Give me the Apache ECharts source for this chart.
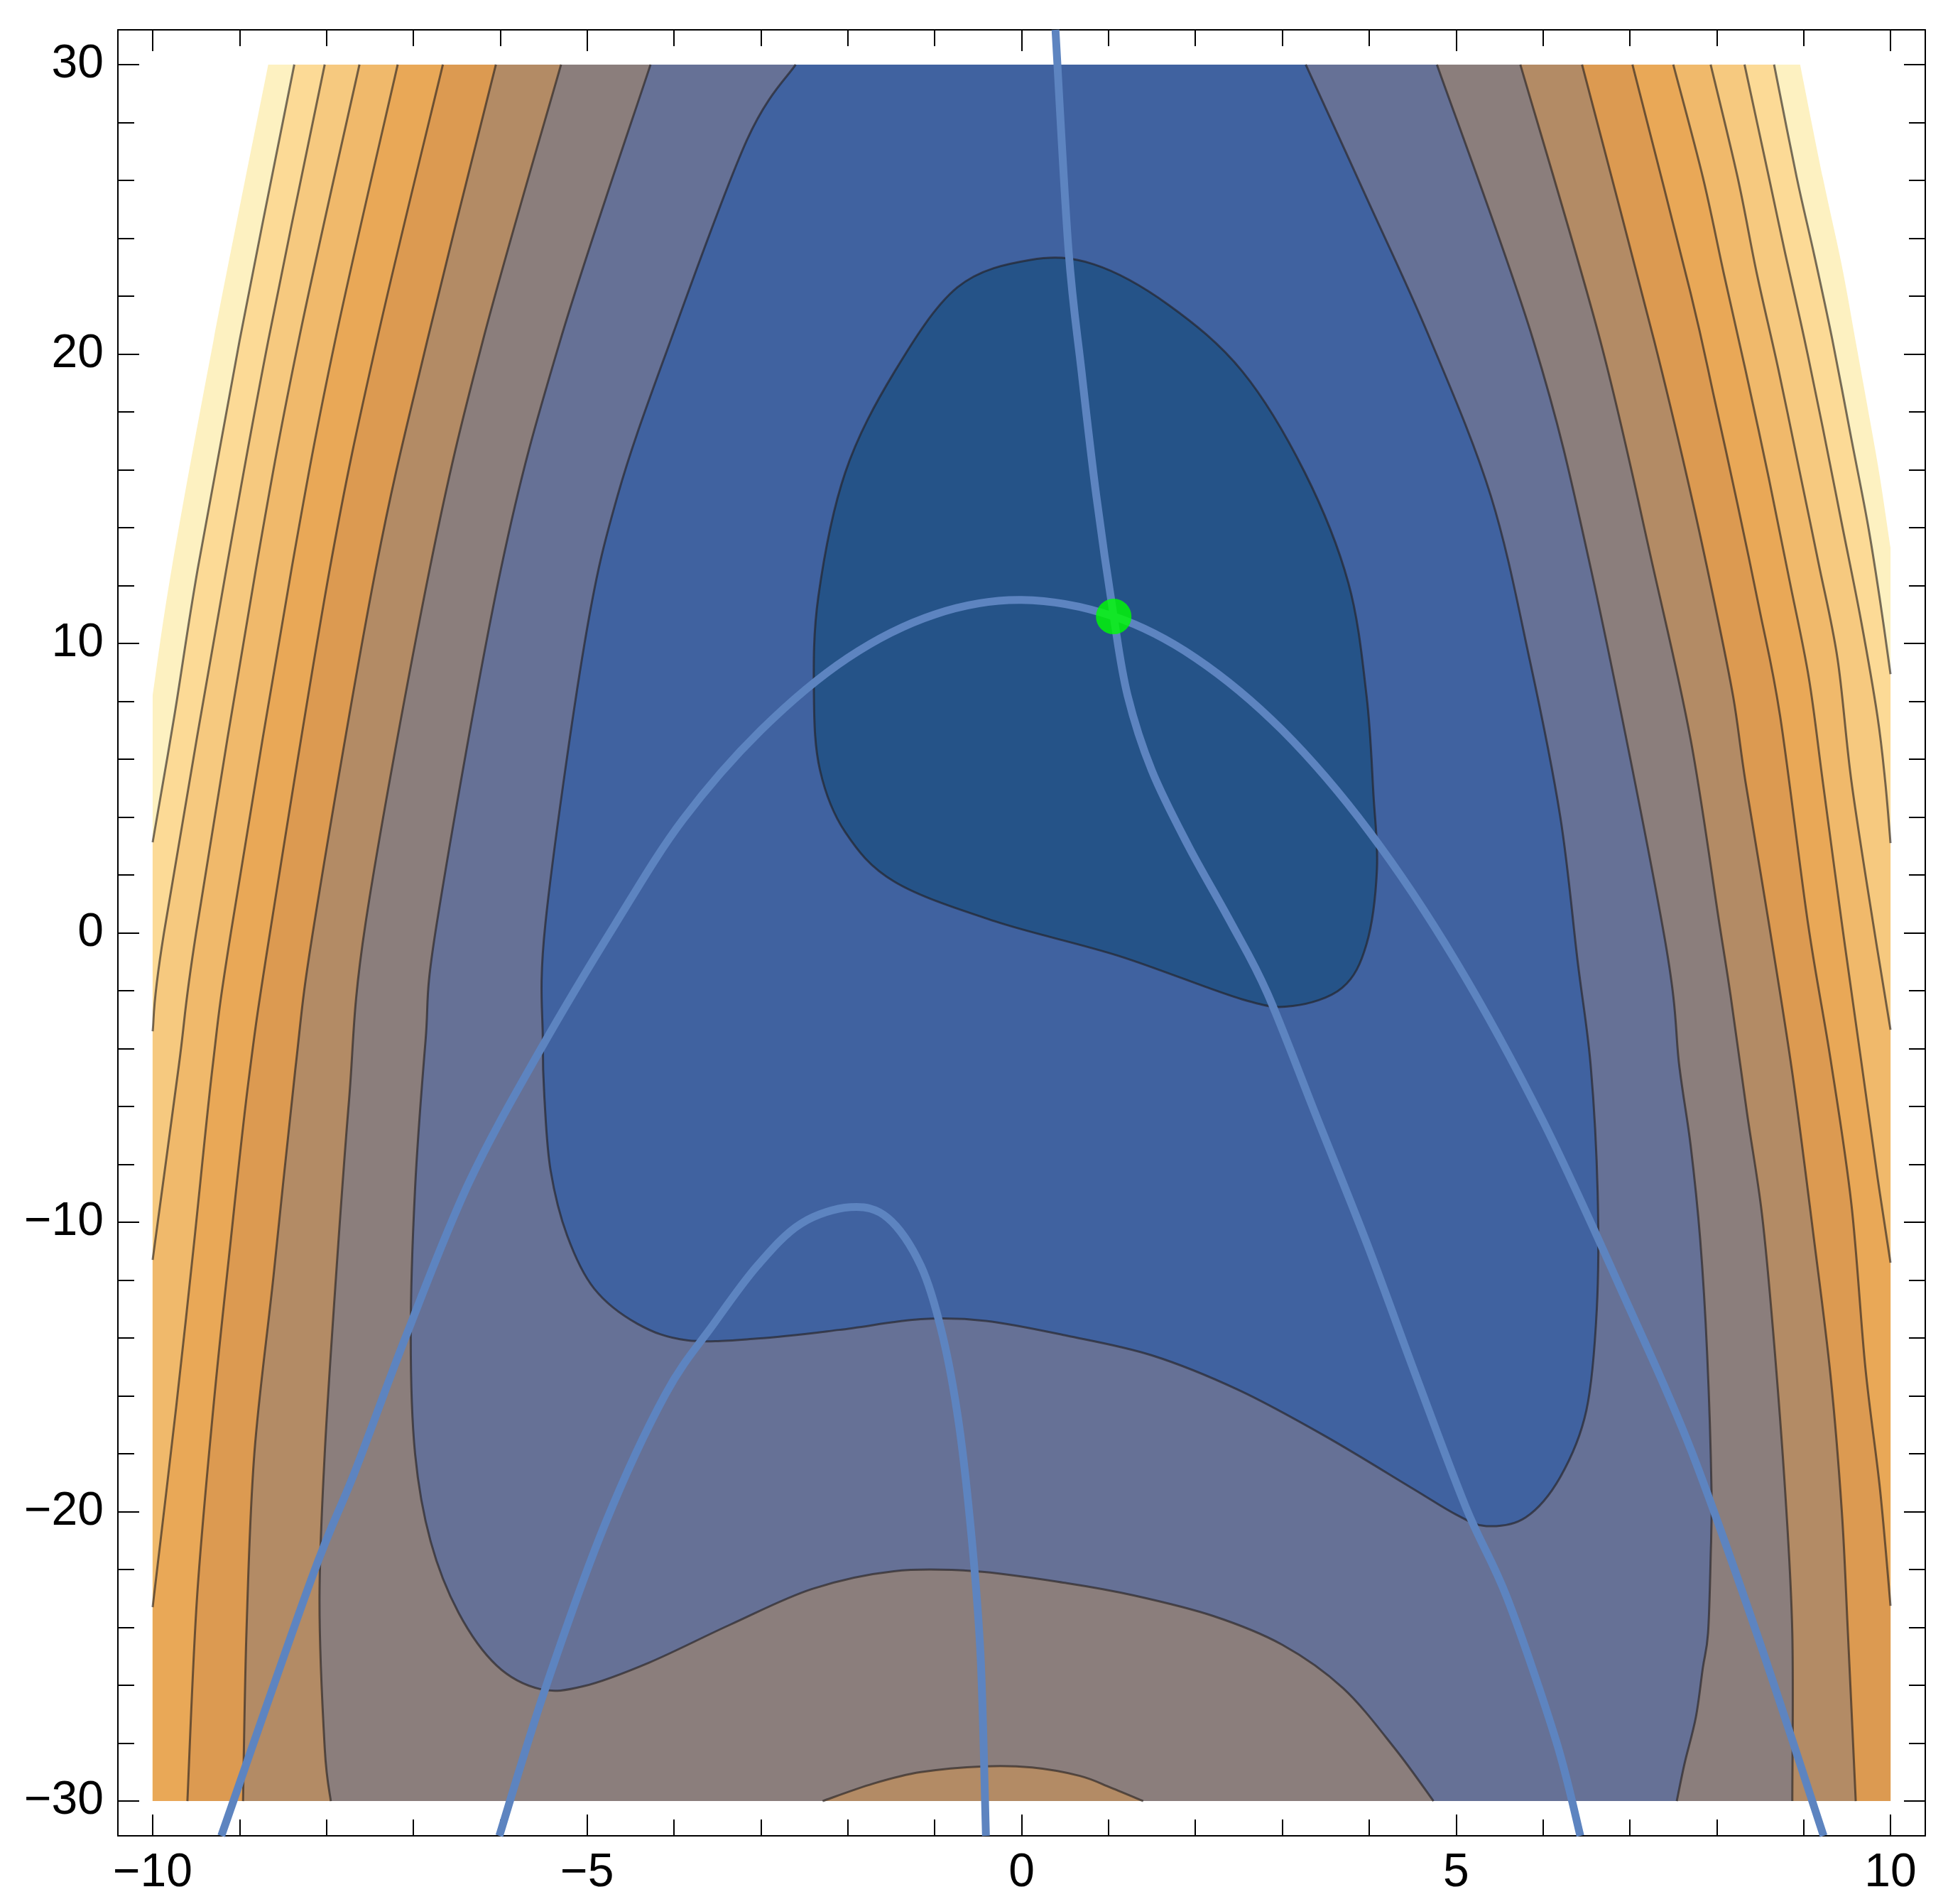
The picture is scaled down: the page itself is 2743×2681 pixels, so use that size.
<!DOCTYPE html>
<html>
<head>
<meta charset="utf-8">
<script src="https://cdn.jsdelivr.net/npm/echarts@6/dist/echarts.min.js"></script>
<style>
  html, body { margin: 0; padding: 0; background: #fff; }
  #chart { width: 2743px; height: 2681px; }
</style>
</head>
<body>
<div id="chart"></div>
<script>
// axis ranges and ticks
const xMin = -10.4, xMax = 10.4, yMin = -31.2, yMax = 31.2;
const xMajor = [-10, -5, 0, 5, 10];
const xMinor = [-9, -8, -7, -6, -4, -3, -2, -1, 1, 2, 3, 4, 6, 7, 8, 9];
const yMajor = [-30, -20, -10, 0, 10, 20, 30];
const yMinor = [-28, -26, -24, -22, -18, -16, -14, -12, -8, -6, -4, -2,
  2, 4, 6, 8, 12, 14, 16, 18, 22, 24, 26, 28];

// band colours, outermost (highest) to innermost (lowest)
const bandColors = ["#fdf1c1", "#fcda96", "#f6c97f", "#f0b96b", "#e9a857",
  "#dc9a51", "#b38b65", "#8b7e7c", "#667196", "#4062a0", "#255388"];

// edge of the plotted area (top corners are clipped white)
const edgeLeft = [[-8.67, 30], [-9.30, 20.46], [-9.78, 12.6], [-10, 8.2]];
const edgeRight = [[8.96, 30], [9.22, 26.11], [9.44, 23.05], [9.61, 20.25], [9.77, 17.6], [9.88, 15.7], [10, 13.3]];

// contour lines, left side (top -> bottom)
const L1 = [[-8.37, 30], [-9.0, 20.46], [-9.48, 12.6], [-9.75, 7.5], [-10, 3.13]];
const L2 = [[-8.02, 30], [-8.67, 20.46], [-9.15, 12.6], [-9.87, 0], [-10, -3.4]];
const L3 = [[-7.62, 30], [-8.32, 20.46], [-8.81, 12.6], [-9.50, 0], [-9.70, -4.62], [-10, -11.3]];
const L4 = [[-7.18, 30], [-7.9, 20.46], [-8.40, 12.6], [-9.10, 0], [-9.31, -4.62], [-9.53, -10.9], [-9.73, -16.4], [-10, -23.3]];
const L5 = [[-6.66, 30], [-7.42, 20.46], [-7.96, 12.6], [-8.65, 0], [-8.90, -5.2], [-9.11, -10.87], [-9.30, -16.36], [-9.49, -23], [-9.6, -30]];
const L6 = [[-6.05, 30], [-6.84, 20.46], [-7.43, 12.6], [-8.14, 0.33], [-8.36, -4.76], [-8.61, -11.88], [-8.83, -18], [-8.92, -24.1], [-8.96, -30]];
const L7 = [[-5.30, 30], [-6.20, 20.46], [-6.81, 12.6], [-7.55, 0.33], [-7.74, -5.78], [-7.89, -11.88], [-8.02, -18], [-8.08, -23.08], [-8.02, -28.17], [-7.95, -30]];
const L8 = [[-4.27, 30], [-5.31, 20.46], [-5.99, 12.6], [-6.73, 0.33], [-6.86, -3.74], [-6.98, -8.83], [-7.03, -13.92],
  [-6.98, -18], [-6.8, -21.04], [-6.48, -23.49], [-6.04, -25.32], [-5.54, -26.13], [-5.04, -26.03], [-4.29, -25.22],
  [-3.35, -23.9], [-2.41, -22.67], [-1.47, -22.06], [-0.53, -22.06], [0.52, -22.47], [1.3, -22.9], [2.2, -23.6],
  [3.0, -24.6], [3.7, -26.1], [4.3, -28.2], [4.74, -30]];

// contour lines, right side (top -> bottom)
const R1 = [[8.66, 30], [8.92, 26.11], [9.12, 23.45], [9.33, 20.5], [9.55, 17.06], [9.74, 14.1], [9.88, 11.47], [10, 8.94]];
const R2 = [[8.32, 30], [8.6, 26.11], [8.79, 23.45], [9.01, 20.5], [9.22, 17.46], [9.44, 14.13], [9.66, 10.8], [9.85, 7.48], [9.94, 5.2], [10, 3.1]];
const R3 = [[7.93, 30], [8.24, 26.11], [8.46, 22.8], [8.71, 19.46], [8.95, 16.0], [9.17, 12.8], [9.39, 9.48], [9.55, 5.24], [9.8, 0.33], [10, -3.35]];
const R4 = [[7.50, 30], [7.84, 26.11], [8.08, 22.8], [8.33, 19.46], [8.6, 15.7], [8.84, 12.14], [9.06, 8.81], [9.22, 5.24], [9.44, 0.33], [9.66, -4.37], [9.85, -8.44], [10, -11.4]];
const R5 = [[7.03, 30], [7.7, 22.1], [7.97, 18.5], [8.24, 14.8], [8.49, 11.2], [8.73, 7.48], [9.05, 0.33], [9.31, -4.37], [9.55, -9.38], [9.71, -15], [9.88, -19.25], [10, -23.25]];
const R6 = [[6.45, 30], [7.28, 20.46], [7.7, 15.2], [7.97, 11.47], [8.19, 8.15], [8.33, 5.24], [8.6, 0.33], [8.87, -4.84], [9.12, -10.6], [9.31, -15.3], [9.44, -20], [9.51, -24.2], [9.6, -30]];
const R7 = [[5.74, 30], [6.66, 20.46], [7.27, 12.6], [7.7, 6.68], [8.03, 0.33], [8.16, -2.17], [8.35, -6.25], [8.52, -9.7], [8.65, -13.8], [8.79, -19.4], [8.87, -24.2], [8.87, -30]];
const R8 = [[4.78, 30], [5.89, 20.46], [6.55, 12.6], [7.39, 0], [7.57, -4.62], [7.70, -7.35], [7.81, -10.6], [7.89, -14.55],
  [7.94, -19.25], [7.93, -21.6], [7.90, -24.2], [7.84, -25.4], [7.76, -27.1], [7.63, -28.7], [7.54, -30]];

// bump at the bottom, blue basin edge (top-left round to top-right), dark inner loop
const bump = [[-2.29, -30], [-1.71, -29.4], [-1.16, -29.0], [-0.43, -28.8], [0.12, -28.84], [0.67, -29.13], [1.03, -29.54], [1.40, -30]];
const blueEdge = [[-2.6, 30], [-3.16, 27.4], [-4.04, 20.46], [-4.65, 15.1], [-5.03, 10], [-5.48, 0.33], [-5.51, -3.74],
  [-5.49, -5.78], [-5.42, -8.22], [-5.23, -10.46], [-4.92, -12.29], [-4.42, -13.51], [-3.85, -14.08], [-3.04, -14.02],
  [-2.1, -13.72], [-1.16, -13.35], [-0.41, -13.41], [0.52, -13.92], [1.5, -14.6], [2.5, -15.8], [3.5, -17.4],
  [4.5, -19.2], [5.0, -20.1], [5.35, -20.5], [5.8, -20.2], [6.2, -18.8], [6.5, -16.5], [6.62, -13], [6.63, -9],
  [6.55, -4.6], [6.4, -1], [6.2, 4], [5.85, 9.4], [5.4, 15.1], [4.69, 20.6], [3.97, 25.4], [3.27, 30]];
const darkLoop = [[0.1, 23.25], [0.83, 23.1], [1.69, 21.7], [2.54, 19.4], [3.26, 15.9], [3.76, 12.1], [3.97, 8.2], [4.05, 4.76],
  [4.09, 2.2], [3.97, -0.39], [3.69, -1.9], [3.12, -2.53], [2.54, -2.3], [1.12, -0.8], [-0.31, 0.4], [-1.46, 1.76],
  [-2.03, 3.48], [-2.32, 5.62], [-2.39, 8.2], [-2.34, 11.6], [-2.03, 15.9], [-1.46, 19.4], [-0.74, 22.3]];

// light blue curves and the green point
const curveA = [[-9.21, -31.2], [-8.17, -22.3], [-7.67, -18.6], [-7.08, -13.9], [-6.36, -8.63], [-5.54, -4.05], [-4.67, 0.33],
  [-3.9, 3.9], [-3, 7.0], [-2, 9.5], [-1, 11.0], [0, 11.5], [1.06, 10.93], [2, 9.5], [3, 7.0], [4, 3.5], [5, -1.0],
  [6, -6.5], [7, -13.0], [7.70, -17.84], [8.46, -24.2], [9.23, -31.2]];
const curveB = [[-6.01, -31.2], [-5.48, -26.1], [-4.79, -20.4], [-4.10, -15.95], [-3.54, -13.5], [-3.04, -11.5], [-2.54, -10.05],
  [-1.97, -9.48], [-1.54, -9.85], [-1.16, -11.5], [-0.91, -13.9], [-0.72, -17.0], [-0.57, -21.05], [-0.47, -25.1], [-0.41, -31.2]];
const curveC = [[0.39, 31.2], [0.54, 23.6], [0.69, 19.4], [0.86, 15.1], [1.06, 10.93], [1.22, 8.2], [1.5, 5.6], [1.92, 3.0],
  [2.4, 0.4], [2.83, -2.1], [3.4, -6.4], [3.97, -10.7], [4.55, -15.4], [5.12, -19.9], [5.59, -23], [6.15, -27.9], [6.43, -31.2]];
const critPoint = [[1.06, 10.93]];

const rev = (a) => a.slice().reverse();
const bottomCorners = { p: [[-10, -30], [10, -30]] };

// filled regions painted from the outside in
const regions = [
  { color: bandColors[0], parts: [{ c: edgeLeft }, bottomCorners, { c: rev(edgeRight) }] },
  { color: bandColors[1], parts: [{ c: L1 }, bottomCorners, { c: rev(R1) }] },
  { color: bandColors[2], parts: [{ c: L2 }, bottomCorners, { c: rev(R2) }] },
  { color: bandColors[3], parts: [{ c: L3 }, bottomCorners, { c: rev(R3) }] },
  { color: bandColors[4], parts: [{ c: L4 }, bottomCorners, { c: rev(R4) }] },
  { color: bandColors[5], parts: [{ c: L5 }, { p: [[10, -30]] }, { c: rev(R5) }] },
  { color: bandColors[6], parts: [{ c: L6 }, { c: rev(R6) }] },
  { color: bandColors[7], parts: [{ c: L7 }, { c: rev(R7) }] },
  { color: bandColors[6], parts: [{ c: bump }] },
  { color: bandColors[8], parts: [{ c: L8 }, { c: rev(R8) }] },
  { color: bandColors[9], parts: [{ c: blueEdge }] },
  { color: bandColors[10], loop: darkLoop }
];

const contourLines = [L1, L2, L3, L4, L5, L6, L7, L8, R1, R2, R3, R4, R5, R6, R7, R8, bump, blueEdge];
const curves = [curveA, curveB, curveC];

function fmt(p) {
  return p[0].toFixed(2) + " " + p[1].toFixed(2);
}

// catmull-rom through pixel points, as cubic segments
function smoothSegs(px, closed) {
  const n = px.length;
  let d = "";
  const last = closed ? n : n - 1;
  const at = (k) => closed ? px[(k + n) % n] : px[Math.max(0, Math.min(n - 1, k))];
  for (let i = 0; i < last; i++) {
    const p0 = at(i - 1), p1 = at(i), p2 = at(i + 1), p3 = at(i + 2);
    const c1 = [p1[0] + (p2[0] - p0[0]) / 6, p1[1] + (p2[1] - p0[1]) / 6];
    const c2 = [p2[0] - (p3[0] - p1[0]) / 6, p2[1] - (p3[1] - p1[1]) / 6];
    d += " C" + fmt(c1) + " " + fmt(c2) + " " + fmt(p2);
  }
  return d;
}

function openPath(arr, api) {
  const pts = arr.map((v) => api.coord(v));
  return "M" + fmt(pts[0]) + smoothSegs(pts, false);
}

function partsPath(parts, api) {
  let d = "";
  parts.forEach((part) => {
    const pts = (part.c || part.p).map((v) => api.coord(v));
    d += (d ? " L" : "M") + fmt(pts[0]);
    if (part.c) {
      d += smoothSegs(pts, false);
    } else {
      for (let i = 1; i < pts.length; i++) d += " L" + fmt(pts[i]);
    }
  });
  return d + " Z";
}

function loopPath(loop, api) {
  const pts = loop.map((v) => api.coord(v));
  return "M" + fmt(pts[0]) + smoothSegs(pts, true) + " Z";
}

function renderFill(params, api) {
  const reg = regions[params.dataIndex];
  const d = reg.loop ? loopPath(reg.loop, api) : partsPath(reg.parts, api);
  return { type: "path", shape: { pathData: d }, style: { fill: reg.color, stroke: null } };
}

function renderLine(params, api) {
  const i = params.dataIndex;
  const d = i === contourLines.length ? loopPath(darkLoop, api) : openPath(contourLines[i], api);
  return {
    type: "path",
    shape: { pathData: d },
    style: { fill: null, stroke: "rgba(35,30,30,0.62)", lineWidth: 3 }
  };
}

function renderCurve(params, api) {
  return {
    type: "path",
    shape: { pathData: openPath(curves[params.dataIndex], api) },
    style: { fill: null, stroke: "#5d84c0", lineWidth: 11, lineCap: "butt" }
  };
}

const minus = (v) => (v < 0 ? "\u2212" + Math.abs(v) : String(v));
const labelFont = { fontSize: 66, color: "#000", fontFamily: "Liberation Sans, Arial, sans-serif" };
const frameLine = { color: "#000", width: 2 };

function makeAxis(pos, min, max, ticks, len, showLine, labels) {
  return {
    type: "value",
    position: pos,
    min: min,
    max: max,
    axisLine: { show: showLine, onZero: false, lineStyle: frameLine },
    axisTick: { show: true, inside: true, length: len, customValues: ticks, lineStyle: { color: "#000", width: 2 } },
    axisLabel: labels
      ? Object.assign({ show: true, customValues: labels, formatter: minus, margin: 20 }, labelFont)
      : { show: false },
    splitLine: { show: false },
    minorTick: { show: false }
  };
}

const chart = echarts.init(document.getElementById("chart"));

chart.setOption({
  animation: false,
  backgroundColor: "#fff",
  grid: { left: 166, right: 32, top: 42, bottom: 96, containLabel: false, outerBoundsMode: "none" },
  xAxis: [
    makeAxis("bottom", xMin, xMax, xMajor, 30, true, xMajor),
    makeAxis("bottom", xMin, xMax, xMinor, 23, false, null),
    makeAxis("top", xMin, xMax, xMajor, 30, true, null),
    makeAxis("top", xMin, xMax, xMinor, 23, false, null)
  ],
  yAxis: [
    makeAxis("left", yMin, yMax, yMajor, 30, true, yMajor),
    makeAxis("left", yMin, yMax, yMinor, 23, false, null),
    makeAxis("right", yMin, yMax, yMajor, 30, true, null),
    makeAxis("right", yMin, yMax, yMinor, 23, false, null)
  ],
  series: [
    {
      type: "custom",
      renderItem: renderFill,
      data: regions.map((r, i) => [i]),
      silent: true,
      z: 1
    },
    {
      type: "custom",
      renderItem: renderLine,
      data: contourLines.concat([darkLoop]).map((r, i) => [i]),
      silent: true,
      z: 2
    },
    {
      type: "custom",
      renderItem: renderCurve,
      data: curves.map((c, i) => [i]),
      silent: true,
      z: 3
    },
    {
      type: "scatter",
      data: critPoint,
      symbolSize: 50,
      itemStyle: { color: "#00ff00" },
      silent: true,
      z: 5
    }
  ]
});
</script>
</body>
</html>
